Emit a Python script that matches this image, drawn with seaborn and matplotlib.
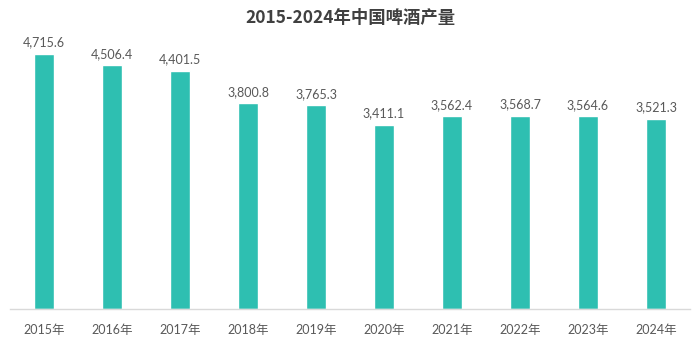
import matplotlib
matplotlib.use("Agg")
import matplotlib.pyplot as plt
import seaborn as sns
import pandas as pd

years = ["2015年", "2016年", "2017年", "2018年", "2019年", "2020年", "2021年", "2022年", "2023年", "2024年"]
output = [4715.6, 4506.4, 4401.5, 3800.8, 3765.3, 3411.1, 3562.4, 3568.7, 3564.6, 3521.3]
title = "2015-2024年中国啤酒产量"

sns.set_theme(style="white")
plt.rcParams['font.family'] = ['Lato', 'Noto Sans CJK SC', 'DejaVu Sans']

df = pd.DataFrame({"year": years, "output": output})

fig = plt.figure(figsize=(7, 3.44), dpi=100)
ax = fig.add_axes([0.0143, 0.1017, 0.9714, 0.811])
sns.barplot(data=df, x="year", y="output", color="#2EBFB1", width=0.29, ax=ax, saturation=1)

ax.set_ylim(0, 5159)
ax.set_xlim(-0.5, len(years) - 0.5)
for i, v in enumerate(output):
    ax.text(i, v + 100, f"{v:,.1f}", ha="center", va="bottom", fontsize=9, color="#595959")

for s in ["top", "right", "left"]:
    ax.spines[s].set_visible(False)
ax.spines["bottom"].set_color("#D9D9D9")
ax.spines["bottom"].set_linewidth(1)
ax.set_yticks([])
ax.set_xlabel("")
ax.set_ylabel("")
ax.tick_params(axis="x", length=0, pad=11, labelsize=9, labelcolor="#595959")

fig.text(0.5, 0.948, title, ha="center", va="center", fontsize=12.5, fontweight="bold",
         color="#404040", family=["Noto Sans CJK SC", "DejaVu Sans"])

fig.savefig("out.png", dpi=100)
